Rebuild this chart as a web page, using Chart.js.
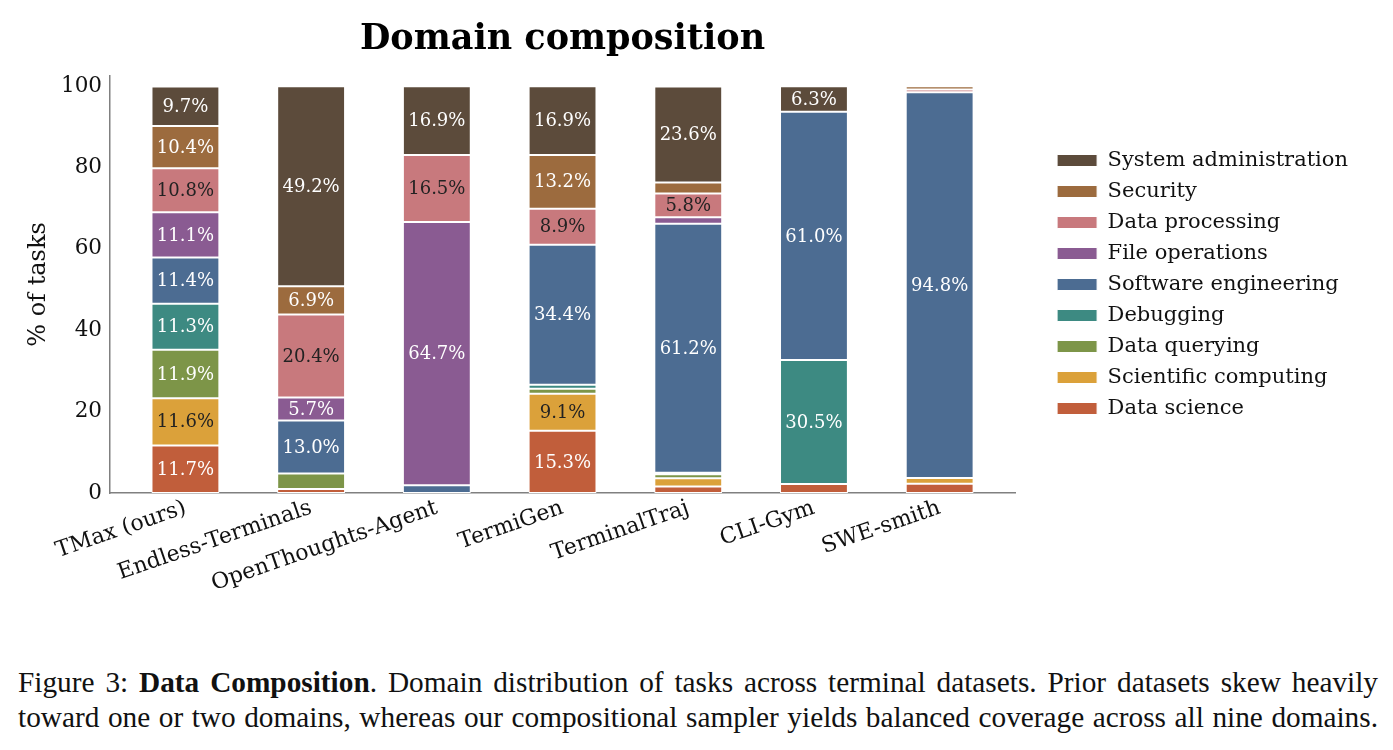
<!DOCTYPE html>
<html lang="en">
  <head>
    <meta charset="UTF-8" />
    <title>Domain composition</title>
    <script src="https://cdn.jsdelivr.net/npm/chart.js"></script>
    <style>
      body { margin: 0; background: #fff; }
      #wrap { position: relative; width: 1393px; height: 750px; }
      #caption {
        position: absolute; left: 18px; top: 665px; width: 1360px;
        font-family: "Liberation Serif", "Times New Roman", serif;
        font-size: 29.3px; line-height: 35px; color: #111;
      }
      #caption div { text-align: justify; text-align-last: justify; }
    </style>
  </head>
  <body>
    <div id="wrap">
      <canvas id="domainChart" width="1393" height="640"></canvas>
      <div id="caption">
        <div>Figure 3: <b>Data Composition</b>. Domain distribution of tasks across terminal datasets. Prior datasets skew heavily</div>
        <div>toward one or two domains, whereas our compositional sampler yields balanced coverage across all nine domains.</div>
      </div>
    </div>
    <script>
      const datasetNames = ["TMax (ours)", "Endless-Terminals", "OpenThoughts-Agent", "TermiGen", "TerminalTraj", "CLI-Gym", "SWE-smith"];

      // domains, bottom of the stack first
      const domains = ["Data science", "Scientific computing", "Data querying", "Debugging", "Software engineering",
        "File operations", "Data processing", "Security", "System administration"];

      // % of tasks per domain, one value per dataset (same order as datasetNames)
      const dataScience = [11.7, 1.0, 0, 15.3, 1.6, 2.2, 2.3];
      const scientificComputing = [11.6, 0, 0, 9.1, 2.0, 0, 1.4];
      const dataQuerying = [11.9, 3.8, 0, 1.2, 1.0, 0, 0];
      const debugging = [11.3, 0, 0, 1.0, 0.4, 30.5, 0];
      const softwareEngineering = [11.4, 13.0, 1.9, 34.4, 61.2, 61.0, 94.8];
      const fileOperations = [11.1, 5.7, 64.7, 0, 1.6, 0, 0];
      const dataProcessing = [10.8, 20.4, 16.5, 8.9, 5.8, 0, 0.7];
      const security = [10.4, 6.9, 0, 13.2, 2.7, 0, 0.8];
      const systemAdministration = [9.7, 49.2, 16.9, 16.9, 23.6, 6.3, 0];

      const yTicks = [0, 20, 40, 60, 80, 100];

      const series = [dataScience, scientificComputing, dataQuerying, debugging, softwareEngineering,
        fileOperations, dataProcessing, security, systemAdministration];
      const colors = ["#c15e3b", "#dba13a", "#7d9548", "#3d8a82", "#4c6c92", "#8a5b92", "#c8797d", "#9c6b3e", "#5c4b3b"];
      const darkText = ["Scientific computing", "Data processing"];

      const FONT = "'DejaVu Serif', serif";
      Chart.defaults.font.family = FONT;
      Chart.defaults.color = "#111";

      // percentage text in the middle of each big enough segment
      const segmentLabels = {
        id: "segmentLabels",
        afterDatasetsDraw(chart) {
          const ctx = chart.ctx;
          ctx.save();
          ctx.font = "18px " + FONT;
          ctx.textAlign = "center";
          ctx.textBaseline = "middle";
          chart.data.datasets.forEach((ds, di) => {
            chart.getDatasetMeta(di).data.forEach((bar, i) => {
              const v = ds.data[i].y;
              if (v < 5) return;
              ctx.fillStyle = darkText.includes(ds.label) ? "#222" : "#fff";
              ctx.fillText(v.toFixed(1) + "%", bar.x, (bar.y + bar.base) / 2 + 1);
            });
          });
          ctx.restore();
        },
      };

      const ctx = document.getElementById("domainChart").getContext("2d");
      new Chart(ctx, {
        type: "bar",
        data: {
          datasets: domains.map((name, k) => ({
            label: name,
            data: series[k].map((v, i) => ({ x: i, y: v })),
            backgroundColor: colors[k],
            borderColor: "#fff",
            borderWidth: 1,
            borderSkipped: false,
            barPercentage: 1,
            categoryPercentage: 0.54,
          })),
        },
        options: {
          responsive: false,
          animation: false,
          layout: { padding: { top: 0, right: 35, bottom: 0, left: 0 } },
          scales: {
            x: {
              type: "linear",
              min: -0.6,
              max: 6.6,
              offset: false,
              stacked: true,
              afterBuildTicks: (s) => { s.ticks = datasetNames.map((_, i) => ({ value: i })); },
              afterFit: (s) => { s.height = 147; },
              grid: { display: false, drawTicks: false },
              border: { color: "#808080", width: 1.5 },
              ticks: {
                autoSkip: false,
                minRotation: 19,
                maxRotation: 19,
                padding: 2,
                color: "#111",
                font: { size: 22 },
                callback: (v) => datasetNames[v] ?? "",
              },
            },
            y: {
              stacked: true,
              min: 0,
              max: 102.5,
              afterBuildTicks: (s) => { s.ticks = yTicks.map((v) => ({ value: v })); },
              afterFit: (s) => { s.width = 110; },
              grid: { display: false, drawTicks: false },
              border: { color: "#808080", width: 1.5 },
              ticks: { padding: 8, color: "#111", font: { size: 21.5 } },
              title: {
                display: true,
                text: "% of tasks",
                color: "#111",
                font: { size: 24 },
                padding: { top: 24, bottom: 0 },
              },
            },
            // empty spacer between the plot and the legend
            gap: {
              position: "right",
              grid: { display: false, drawTicks: false },
              border: { display: false },
              ticks: { display: false },
              afterFit: (s) => { s.width = 32; },
            },
          },
          plugins: {
            title: {
              display: true,
              text: "Domain composition",
              fullSize: false,
              color: "#000",
              font: { size: 35, weight: "bold" },
              padding: { top: 19, bottom: 15 },
            },
            legend: {
              position: "right",
              align: "center",
              fullSize: false,
              reverse: true,
              maxWidth: 420,
              labels: {
                boxWidth: 40,
                boxHeight: 12,
                padding: 10,
                color: "#111",
                font: { size: 21 },
              },
            },
            tooltip: { enabled: false },
          },
        },
        plugins: [segmentLabels],
      });
    </script>
  </body>
</html>
